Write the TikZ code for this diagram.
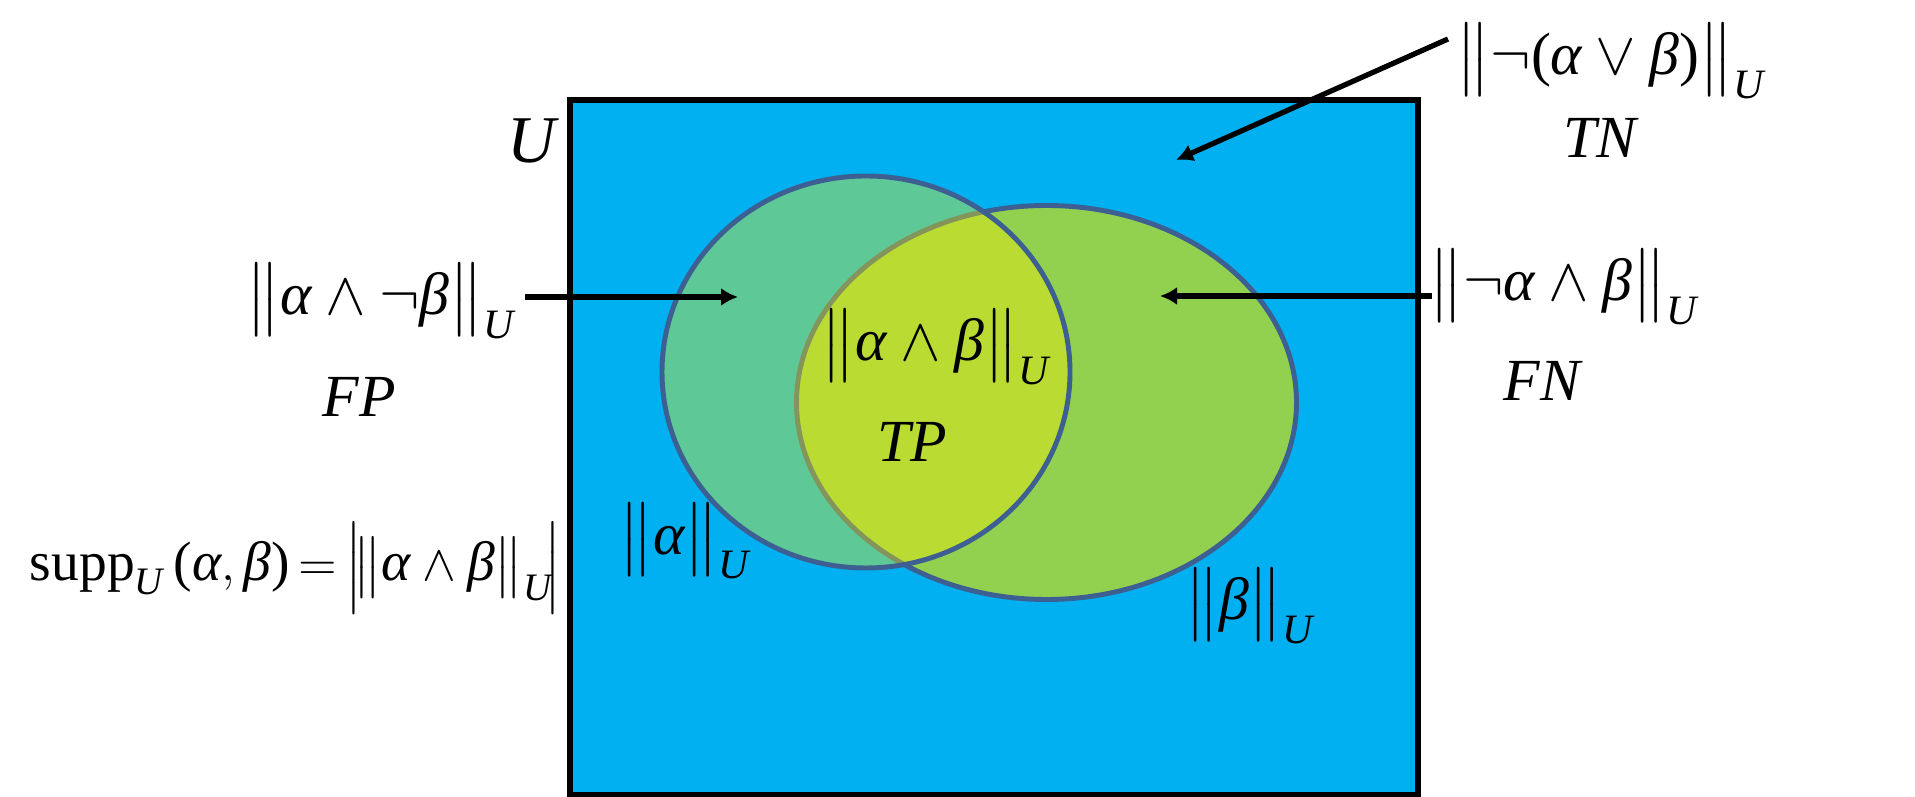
\documentclass[tikz,border=0pt]{standalone}
\usepackage{amsmath}
\usepackage{fontspec}
\setmainfont{Liberation Serif}
\usetikzlibrary{arrows.meta}
\definecolor{ubg}{HTML}{00B0F0}
\definecolor{bfill}{HTML}{92D050}
\definecolor{eline}{HTML}{3D5F91}
\newcommand\tv[1]{\text{\itshape #1}}
\newcommand\tu[1]{\text{#1}}
\newcommand\nrm[1]{\big\|#1\big\|_{\tv{U}}}
\begin{document}
\begin{tikzpicture}[x=0.1mm,y=-0.1mm,
  lbl/.style={inner sep=0pt,font=\fontsize{17}{20.4}\selectfont},
  arr/.style={line width=1.5pt,-{Latex[length=1.7mm,width=1.8mm]}},
  ell/.style={draw=eline,line width=1.4pt}]
\useasboundingbox (0,0) rectangle (1915,797);
% universe
\filldraw[fill=ubg,draw=black,line width=1.8pt] (570,100) rectangle (1418,795);
% beta
\filldraw[ell,fill=bfill] (1046.5,402.5) ellipse [x radius=2.50cm,y radius=1.97cm];
% alpha
\fill[yellow,fill opacity=0.37] (866,372) ellipse [x radius=2.04cm,y radius=1.96cm];
\draw[ell] (866,372) ellipse [x radius=2.04cm,y radius=1.96cm];
% labels
\node[lbl] (tnf) at (1611,61) {$\big\|\neg\tu{(}\tv{α}\vee\tv{β}\tu{)}\big\|_{\tv{U}}$};
\node[lbl] (tn) at (1600,138) {\itshape TN};
\node[lbl,font=\fontsize{19}{22}\selectfont\itshape] (u) at (532,141) {U};
\node[lbl] (fpf) at (381,301) {$\nrm{\tv{α}\wedge\neg\tv{β}}$};
\node[lbl] (fp) at (359,397) {\itshape FP};
\node[lbl] (tpf) at (936,347) {$\nrm{\tv{α}\wedge\tv{β}}$};
\node[lbl] (tp) at (912,442) {\itshape TP};
\node[lbl] (fnf) at (1564,287) {$\nrm{\neg\tv{α}\wedge\tv{β}}$};
\node[lbl] (fn) at (1542,381) {\itshape FN};
\node[lbl] (na) at (685,541) {$\nrm{\tv{α}}$};
\node[lbl] (nb) at (1250,606) {$\nrm{\tv{β}}$};
\node[lbl,anchor=east,font=\fontsize{15.8}{19}\selectfont] (supp) at (562,568) {$\text{supp}_{\tv{U}}\tu{\,(}\tv{α},\tv{β}\tu{)}\,\mathord{=}\,\Big|\!\nrm{\tv{α}\wedge\tv{β}}\!\Big|$};
% arrows
\coordinate (tnS) at (1448,39);
\coordinate (tnE) at (1176,160);
\coordinate (fpS) at (525,297);
\coordinate (fpE) at (738,297);
\coordinate (fnS) at (1432,296);
\coordinate (fnE) at (1160,296);
\draw[arr] (tnS) -- (tnE);
\draw[arr] (fpS) -- (fpE);
\draw[arr] (fnS) -- (fnE);
\end{tikzpicture}
\end{document}
